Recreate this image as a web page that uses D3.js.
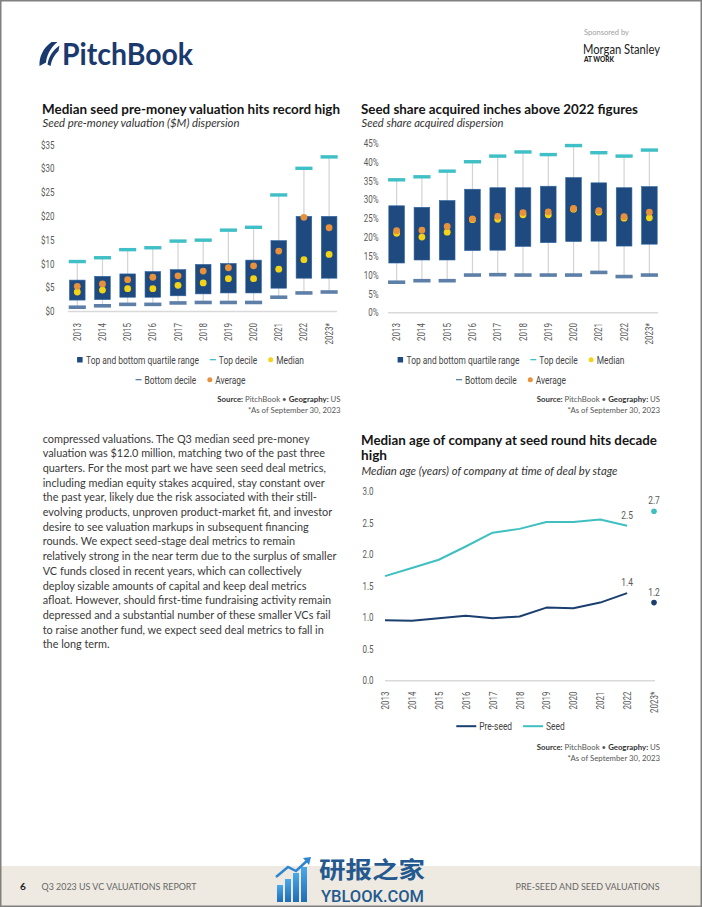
<!DOCTYPE html>
<html><head><meta charset="utf-8">
<script src="https://cdn.jsdelivr.net/npm/d3@7"></script>
<style>
body{margin:0;background:#fff;}
svg{display:block;}
</style></head><body>
<svg id="page" width="702" height="907"></svg>
<script>
// ---------------- DATA ----------------
const years = ["2013","2014","2015","2016","2017","2018","2019","2020","2021","2022","2023*"];

// Chart 1: Seed pre-money valuation ($M)
const valTopDecile    = [10.5,11.3,13.0,13.4,14.8,15.0,17.1,17.7,24.5,30.1,32.5];
const valUpperQuart   = [6.6,7.4,7.9,8.4,8.8,9.9,10.1,10.8,14.9,20.0,20.0];
const valLowerQuart   = [2.4,2.5,3.0,3.0,3.3,3.7,3.9,3.9,4.9,7.0,7.0];
const valBottomDecile = [0.9,1.2,1.5,1.5,1.8,1.9,1.9,1.9,3.0,3.9,4.1];
const valAverage      = [5.3,5.8,6.7,7.2,7.5,8.5,9.2,9.6,12.7,19.8,17.6];
const valMedian       = [4.1,4.5,4.8,4.8,5.5,6.0,6.9,6.9,8.9,10.9,12.0];
const valTicks        = [0,5,10,15,20,25,30,35];

// Chart 2: Seed share acquired (%)
const shareTopDecile    = [35.3,36.1,37.6,40.1,41.6,42.7,42.0,44.4,42.5,41.6,43.2];
const shareUpperQuart   = [28.4,28.0,29.8,32.8,33.2,33.2,33.6,35.9,34.5,33.2,33.5];
const shareLowerQuart   = [13.2,14.0,14.0,16.5,16.6,17.6,18.6,18.9,19.0,17.7,18.2];
const shareBottomDecile = [8.1,8.5,8.5,10.0,10.1,10.0,10.0,10.0,10.7,9.6,10.0];
const shareAverage      = [21.8,21.9,22.9,24.9,25.6,26.6,26.8,27.7,27.1,25.5,26.7];
const shareMedian       = [21.1,20.1,21.4,24.7,24.8,26.0,26.0,27.5,26.7,25.1,25.2];
const shareTicks        = [0,5,10,15,20,25,30,35,40,45];

// Chart 3: Median age (years)
const agePreSeed = [0.96,0.95,0.99,1.03,0.99,1.02,1.16,1.15,1.24,1.39,1.24];
const ageSeed    = [1.66,1.79,1.92,2.13,2.35,2.41,2.52,2.52,2.56,2.46,2.69];
const ageTicks   = [0,0.5,1.0,1.5,2.0,2.5,3.0];

const legendBoxLabels = ["Top and bottom quartile range","Top decile","Median","Bottom decile","Average"];
const legendLineLabels = ["Pre-seed","Seed"];

const bodyLines = [
"compressed valuations. The Q3 median seed pre-money",
"valuation was $12.0 million, matching two of the past three",
"quarters. For the most part we have seen seed deal metrics,",
"including median equity stakes acquired, stay constant over",
"the past year, likely due the risk associated with their still-",
"evolving products, unproven product-market fit, and investor",
"desire to see valuation markups in subsequent financing",
"rounds. We expect seed-stage deal metrics to remain",
"relatively strong in the near term due to the surplus of smaller",
"VC funds closed in recent years, which can collectively",
"deploy sizable amounts of capital and keep deal metrics",
"afloat. However, should first-time fundraising activity remain",
"depressed and a substantial number of these smaller VCs fail",
"to raise another fund, we expect seed deal metrics to fall in",
"the long term."
];

// ---------------- STYLE ----------------
const MAIN = "Lato,'Open Sans',sans-serif";
const NARROW = "Roboto,'Liberation Sans',sans-serif";
const NF = 0.8; // horizontal condensing factor for narrow chart labels
const C = {
  box:"#1e4a80", boxEdge:"#2f65a0", top:"#3fbfc6", bottom:"#5e80a8",
  whisker:"#d3d3d3", avg:"#e8913a", med:"#f3d317", base:"#d9d9d9",
  seed:"#3fbfc0", pre:"#1b3f6e", tick:"#5a5a5a", navy:"#1a3a6e"
};

const svg = d3.select("#page");

function fit(sel, w){ sel.attr("textLength", w).attr("lengthAdjust","spacingAndGlyphs"); return sel; }
// condensed text: a group translated to (x,y) and scaled horizontally
function ntext(parent, x, y, txt, size, anchor, color){
  const gg = parent.append("g").attr("transform",`translate(${x},${y}) scale(${NF},1)`);
  const t = gg.append("text").attr("x",0).attr("y",0).attr("font-family",NARROW).attr("font-size",size)
    .attr("fill",color).attr("text-anchor",anchor||"start").text(txt);
  return {g:gg, t, w:t.node().getComputedTextLength()*NF};
}

// page border & footer band
svg.append("rect").attr("x",1).attr("y",866).attr("width",700).attr("height",40).attr("fill","#eeeae1");
svg.append("rect").attr("x",0.75).attr("y",0.75).attr("width",700.5).attr("height",905.5)
  .attr("fill","none").attr("stroke","#808080").attr("stroke-width",1.5);

// ---------------- HEADER ----------------
const logo = svg.append("g");
logo.append("path").attr("fill",C.navy)
  .attr("d","M39.5,66 C39,57 43,48 51.5,42 L57.5,42 C50,48 46.5,56 46,62.5 Z");
logo.append("path").attr("fill",C.navy)
  .attr("d","M47.5,64.5 C48.5,57 52.5,50.5 59.5,45.5 L58.5,51 C54.5,54.5 51.5,59.5 50.5,66 Z");
fit(logo.append("text").attr("x",62).attr("y",65).attr("font-family",MAIN).attr("font-weight",700)
  .attr("font-size",30).attr("fill",C.navy).text("PitchBook"),131);

fit(svg.append("text").attr("x",584).attr("y",34.5).attr("font-family",MAIN).attr("font-size",7)
  .attr("fill","#a0a0a0").text("Sponsored by"),45);
fit(svg.append("text").attr("x",583).attr("y",53.5).attr("font-family",MAIN).attr("font-size",12.5)
  .attr("fill","#222").text("Morgan Stanley"),77);
fit(svg.append("text").attr("x",584).attr("y",61.5).attr("font-family",MAIN).attr("font-weight",900)
  .attr("font-size",6.5).attr("fill","#222").text("AT WORK"),30);

// ---------------- helpers ----------------
function legend(g, items, cx, y){
  const row = g.append("g");
  let x = 0;
  items.forEach(it=>{
    const mw = it.type==="line"?20:(it.type==="dot"?5:6);
    const m = row.append("g").attr("transform",`translate(${x},0)`);
    if(it.type==="square") m.append("rect").attr("x",0).attr("y",-6.5).attr("width",5.5).attr("height",5.5).attr("fill",it.color);
    if(it.type==="dash") m.append("rect").attr("x",0).attr("y",-4.5).attr("width",6).attr("height",1.3).attr("fill",it.color);
    if(it.type==="dot") m.append("circle").attr("cx",2.5).attr("cy",-3.8).attr("r",2.5).attr("fill",it.color);
    if(it.type==="line") m.append("line").attr("x1",0).attr("x2",20).attr("y1",-3.8).attr("y2",-3.8).attr("stroke",it.color).attr("stroke-width",2);
    const nt = ntext(row, x+mw+3, 0, it.label, 10.5, "start", "#444");
    x += mw + 3 + nt.w + 11;
  });
  x -= 11;
  row.attr("transform",`translate(${cx - x/2},${y})`);
}

function source(g, xr, y){
  const t = g.append("text").attr("x",xr).attr("y",y).attr("text-anchor","end")
    .attr("font-family",MAIN).attr("font-size",7.8).attr("fill","#333");
  t.append("tspan").attr("font-weight",700).text("Source: ");
  t.append("tspan").attr("fill","#555").text("PitchBook  •  ");
  t.append("tspan").attr("font-weight",700).text("Geography: ");
  t.append("tspan").attr("fill","#555").text("US");
  g.append("text").attr("x",xr).attr("y",y+10.5).attr("text-anchor","end")
    .attr("font-family",MAIN).attr("font-size",7.8).attr("fill","#555").text("*As of September 30, 2023");
}

function title(g, x, y, txt, w){
  return fit(g.append("text").attr("x",x).attr("y",y).attr("font-family",MAIN).attr("font-weight",700)
    .attr("font-size",13.2).attr("fill","#151515").text(txt), w);
}
function subtitle(g, x, y, txt, w){
  return fit(g.append("text").attr("x",x).attr("y",y).attr("font-family",MAIN).attr("font-style","italic")
    .attr("font-size",10.5).attr("fill","#333").text(txt), w);
}

function styleAxis(ax, rotated){
  ax.select(".domain").remove();
  ax.selectAll(".tick line").remove();
  const t = ax.selectAll("text").attr("font-family",NARROW).attr("font-size",10).attr("fill",C.tick);
  if(rotated){
    t.attr("x",0).attr("y",0).attr("dy","0.35em").attr("text-anchor","end")
     .attr("transform",`rotate(-90) scale(${NF},1)`);
  } else {
    t.attr("transform",`scale(${NF},1)`);
  }
}

function boxChart(opt){
  const g = svg.append("g");
  const x = d3.scaleBand().domain(years).range(opt.xr).paddingInner(0).paddingOuter(0);
  const y = d3.scaleLinear().domain(opt.dom).range(opt.yr);
  const step = x.step(), bw = step*0.62, dw = step*0.68;
  const cx = d => x(d)+step/2;
  const rows = years.map((yr,i)=>({yr, top:opt.top[i], q3:opt.q3[i], q1:opt.q1[i], bot:opt.bot[i], avg:opt.avg[i], med:opt.med[i]}));

  const ya = g.append("g").attr("transform",`translate(${opt.yAxisX},0)`)
    .call(d3.axisLeft(y).tickValues(opt.ticks).tickSize(0).tickPadding(0).tickFormat(opt.fmt));
  styleAxis(ya, false);
  g.append("line").attr("x1",opt.baseX[0]).attr("x2",opt.baseX[1]).attr("y1",y(0)).attr("y2",y(0))
    .attr("stroke",C.base).attr("stroke-width",1.5);
  g.selectAll(".wh").data(rows).join("line").attr("x1",d=>cx(d.yr)).attr("x2",d=>cx(d.yr))
    .attr("y1",d=>y(d.top)).attr("y2",d=>y(d.bot)).attr("stroke",C.whisker).attr("stroke-width",1.2);
  g.selectAll(".bx").data(rows).join("rect").attr("x",d=>cx(d.yr)-bw/2).attr("width",bw)
    .attr("y",d=>y(d.q3)).attr("height",d=>y(d.q1)-y(d.q3)).attr("fill",C.box)
    .attr("stroke",C.boxEdge).attr("stroke-width",0.6);
  g.selectAll(".td").data(rows).join("rect").attr("x",d=>cx(d.yr)-dw/2).attr("width",dw)
    .attr("y",d=>y(d.top)-1.7).attr("height",3.4).attr("fill",C.top);
  g.selectAll(".bd").data(rows).join("rect").attr("x",d=>cx(d.yr)-dw/2).attr("width",dw)
    .attr("y",d=>y(d.bot)-1.8).attr("height",3.6).attr("fill",C.bottom);
  g.selectAll(".md").data(rows).join("circle").attr("cx",d=>cx(d.yr)).attr("cy",d=>y(d.med))
    .attr("r",3.4).attr("fill",C.med);
  g.selectAll(".av").data(rows).join("circle").attr("cx",d=>cx(d.yr)).attr("cy",d=>y(d.avg))
    .attr("r",3.4).attr("fill",C.avg);
  const xa = g.append("g").attr("transform",`translate(0,${opt.xLabY})`)
    .call(d3.axisBottom(x).tickSize(0));
  styleAxis(xa, true);

  const lc = opt.legendCx;
  legend(g,[
    {type:"square",color:C.box,label:legendBoxLabels[0]},
    {type:"dash",color:C.top,label:legendBoxLabels[1]},
    {type:"dot",color:C.med,label:legendBoxLabels[2]}], lc, 363.5);
  legend(g,[
    {type:"dash",color:C.bottom,label:legendBoxLabels[3]},
    {type:"dot",color:C.avg,label:legendBoxLabels[4]}], lc, 383.5);
  source(g, opt.srcX, 402);
  return g;
}

// ---------------- CHART 1 ----------------
title(svg, 42, 113.5, "Median seed pre-money valuation hits record high", 298);
subtitle(svg, 42.5, 127, "Seed pre-money valuation ($M) dispersion", 197);
boxChart({xr:[64.7,341.7], yr:[311.5,145], dom:[0,35], ticks:valTicks, fmt:d=>"$"+d,
  top:valTopDecile, q3:valUpperQuart, q1:valLowerQuart, bot:valBottomDecile, avg:valAverage, med:valMedian,
  yAxisX:54.5, baseX:[68,337], xLabY:323, legendCx:190.5, srcX:340.5});

// ---------------- CHART 2 ----------------
title(svg, 361, 113.5, "Seed share acquired inches above 2022 figures", 277);
subtitle(svg, 361.5, 127, "Seed share acquired dispersion", 142);
boxChart({xr:[384,662], yr:[312.7,143.3], dom:[0,45], ticks:shareTicks, fmt:d=>d+"%",
  top:shareTopDecile, q3:shareUpperQuart, q1:shareLowerQuart, bot:shareBottomDecile, avg:shareAverage, med:shareMedian,
  yAxisX:378.5, baseX:[388,658], xLabY:323, legendCx:511, srcX:660});

// ---------------- CHART 3 ----------------
(function(){
  const g = svg.append("g");
  title(g, 361, 445, "Median age of company at seed round hits decade", 296);
  title(g, 361, 459.5, "high", 26);
  subtitle(g, 361.5, 474.5, "Median age (years) of company at time of deal by stage", 256);
  const x = d3.scalePoint().domain(years).range([385,654]);
  const y = d3.scaleLinear().domain([0,3]).range([680.7,491.7]);
  const ya = g.append("g").attr("transform","translate(373.5,0)")
    .call(d3.axisLeft(y).tickValues(ageTicks).tickSize(0).tickPadding(0).tickFormat(d3.format(".1f")));
  styleAxis(ya, false);
  g.append("line").attr("x1",385).attr("x2",655).attr("y1",y(0)).attr("y2",y(0))
    .attr("stroke",C.base).attr("stroke-width",1.5);
  const series = [{vals:agePreSeed,color:C.pre},{vals:ageSeed,color:C.seed}];
  const fmt = d3.format(".1f");
  series.forEach(s=>{
    const pts = years.map((yr,i)=>({yr,v:s.vals[i]}));
    const lineP = pts.slice(0,10);
    const last = pts[10], prev = pts[9];
    g.append("path").datum(lineP).attr("fill","none").attr("stroke",s.color).attr("stroke-width",2)
      .attr("stroke-linejoin","round")
      .attr("d",d3.line().x(d=>x(d.yr)).y(d=>y(d.v)));
    g.append("circle").attr("cx",x(last.yr)).attr("cy",y(last.v)).attr("r",2.8).attr("fill",s.color);
    [prev,last].forEach(p=>{
      ntext(g, x(p.yr), y(p.v)-7, fmt(p.v), 10.5, "middle", C.tick);
    });
  });
  const xa = g.append("g").attr("transform","translate(0,691.5)").call(d3.axisBottom(x).tickSize(0));
  styleAxis(xa, true);
  legend(g,[{type:"line",color:C.pre,label:legendLineLabels[0]},{type:"line",color:C.seed,label:legendLineLabels[1]}],510.5,730);
  source(g, 660, 750);
})();

// ---------------- BODY TEXT ----------------
(function(){
  const g = svg.append("g").attr("font-family",MAIN).attr("fill","#3a3a3a");
  const probe = g.append("text").attr("font-size",12).text(bodyLines[8]);
  const w = probe.node().getComputedTextLength(); probe.remove();
  const fs = 12*294/w;
  g.selectAll("text").data(bodyLines).join("text").attr("x",42.7).attr("y",(d,i)=>442.5+i*14.7)
    .attr("font-size",fs).text(d=>d);
})();

// ---------------- FOOTER ----------------
svg.append("text").attr("x",20).attr("y",890).attr("font-family",MAIN).attr("font-weight",700)
  .attr("font-size",10).attr("fill","#222").text("6");
fit(svg.append("text").attr("x",41.5).attr("y",890).attr("font-family",MAIN).attr("font-size",8.5)
  .attr("fill","#666").text("Q3 2023 US VC VALUATIONS REPORT"),155);
fit(svg.append("text").attr("x",659.5).attr("y",890).attr("font-family",MAIN).attr("font-size",8.5)
  .attr("fill","#666").attr("text-anchor","end").text("PRE-SEED AND SEED VALUATIONS"),144);

// watermark
(function(){
  const g = svg.append("g");
  const grad = svg.append("defs").append("linearGradient").attr("id","wmg").attr("x1",0).attr("y1",0).attr("x2",0).attr("y2",1);
  grad.append("stop").attr("offset","0").attr("stop-color","#4aa8e8");
  grad.append("stop").attr("offset","1").attr("stop-color","#1f6db5");
  [[277,885,6],[285,879,6],[293,873,6],[301,867,6]].forEach(b=>{
    g.append("rect").attr("x",b[0]).attr("y",b[1]).attr("width",b[2]).attr("height",902-b[1]).attr("fill","url(#wmg)");
  });
  g.append("path").attr("d","M276,877 L288,867 L296,871 L309,859").attr("fill","none").attr("stroke","#2f86d0").attr("stroke-width",2.5);
  g.append("path").attr("d","M303,858 L311,857 L309,865 Z").attr("fill","#2f86d0");
  fit(g.append("text").attr("x",319).attr("y",878).attr("font-family","'Noto Sans CJK SC'").attr("font-weight",700)
    .attr("font-size",23).attr("fill","#24598f").text("研报之家"),106);
  fit(g.append("text").attr("x",321).attr("y",901.5).attr("font-family","Roboto,sans-serif").attr("font-weight",500)
    .attr("font-size",16).attr("fill","#24598f").text("YBLOOK.COM"),103);
})();
</script>
</body></html>
